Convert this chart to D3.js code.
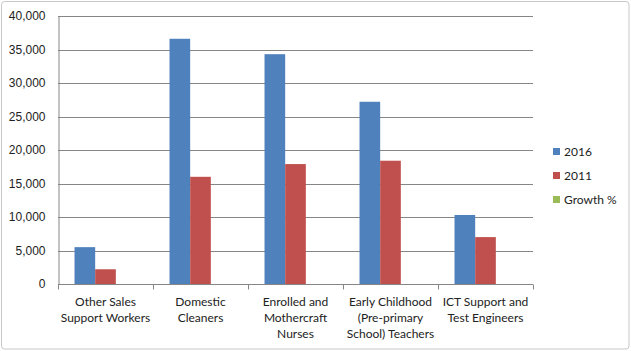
<!DOCTYPE html>
<html>
<head>
<meta charset="utf-8">
<script src="https://cdn.jsdelivr.net/npm/d3@7"></script>
<style>
  html, body { margin: 0; padding: 0; background: #fff; }
  svg { display: block; font-family: Lato, "Open Sans", sans-serif; }
</style>
</head>
<body>
<svg width="631" height="351"></svg>
<script>
const categories = [
  ["Other Sales", "Support Workers"],
  ["Domestic", "Cleaners"],
  ["Enrolled and", "Mothercraft", "Nurses"],
  ["Early Childhood", "(Pre-primary", "School) Teachers"],
  ["ICT Support and", "Test Engineers"]
];
const seriesNames = ["2016", "2011", "Growth %"];
const values2016 = [5500, 36600, 34300, 27200, 10300];
const values2011 = [2200, 16000, 17900, 18400, 7000];
const valuesGrowth = [0, 0, 0, 0, 0];
const yTicks = [0, 5000, 10000, 15000, 20000, 25000, 30000, 35000, 40000];
const colors = ["#4f81bd", "#c0504d", "#9bbb59"];

const svg = d3.select("svg");
const W = 631, H = 351;
const m = {left: 58, right: 98, top: 16, bottom: 67};

// outer frame
svg.append("rect")
  .attr("x", 1.5).attr("y", 1.5)
  .attr("width", W - 3.5).attr("height", H - 3.5)
  .attr("rx", 3)
  .attr("fill", "#fff")
  .attr("stroke", "#c8c8c8");

const series = [values2016, values2011, valuesGrowth];
const idx = d3.range(categories.length);

const x = d3.scaleBand()
  .domain(idx)
  .range([m.left, W - m.right])
  .paddingInner(0)
  .paddingOuter(0);

const xs = d3.scaleBand()
  .domain(d3.range(series.length))
  .range([0, x.bandwidth()])
  .paddingInner(0)
  .paddingOuter(0.8);

const y = d3.scaleLinear()
  .domain([0, 40000])
  .range([H - m.bottom, m.top]);

const fmt = d3.format(",d");

// gridlines
svg.append("g")
  .selectAll("line")
  .data(yTicks.slice(1))
  .join("line")
    .attr("x1", m.left).attr("x2", W - m.right)
    .attr("y1", d => Math.round(y(d)) + 0.5)
    .attr("y2", d => Math.round(y(d)) + 0.5)
    .attr("stroke", "#868686");

// bars
svg.append("g")
  .selectAll("g")
  .data(series)
  .join("g")
    .attr("fill", (d, i) => colors[i])
  .selectAll("rect")
  .data((d, si) => d.map((v, ci) => ({v, ci, si})))
  .join("rect")
    .attr("x", d => x(d.ci) + xs(d.si))
    .attr("width", xs.bandwidth())
    .attr("y", d => y(d.v))
    .attr("height", d => y(0) - y(d.v));

// y axis
const yAxis = svg.append("g")
  .attr("transform", `translate(${m.left + 0.5},0)`)
  .call(d3.axisLeft(y).tickValues(yTicks).tickFormat(fmt).tickSize(0).tickPadding(13));
yAxis.select(".domain").attr("stroke", "#868686");
yAxis.selectAll("text").attr("font-size", 12).attr("fill", "#222");

// x axis
const xAxis = svg.append("g")
  .attr("transform", `translate(0,${Math.round(y(0)) + 0.5})`);
xAxis.append("line")
  .attr("x1", m.left).attr("x2", W - m.right)
  .attr("stroke", "#868686");
xAxis.selectAll("line.tick")
  .data(idx.concat([categories.length]))
  .join("line")
    .attr("class", "tick")
    .attr("x1", d => Math.round(d < categories.length ? x(d) : x(d - 1) + x.bandwidth()) + 0.5)
    .attr("x2", d => Math.round(d < categories.length ? x(d) : x(d - 1) + x.bandwidth()) + 0.5)
    .attr("y1", 0).attr("y2", 5)
    .attr("stroke", "#868686");

svg.append("g")
  .selectAll("text")
  .data(categories)
  .join("text")
    .attr("x", (d, i) => x(i) + x.bandwidth() / 2)
    .attr("y", 306)
    .attr("text-anchor", "middle")
    .attr("font-size", 12)
    .attr("fill", "#222")
  .selectAll("tspan")
  .data(d => d)
  .join("tspan")
    .attr("x", function() { return this.parentNode.getAttribute("x"); })
    .attr("dy", (d, i) => i === 0 ? 0 : 16)
    .text(d => d);

// legend
const legend = svg.append("g")
  .selectAll("g")
  .data(seriesNames)
  .join("g")
    .attr("transform", (d, i) => `translate(553,${152 + i * 24})`);
legend.append("rect")
  .attr("x", 0).attr("y", -4)
  .attr("width", 7).attr("height", 7)
  .attr("fill", (d, i) => colors[i]);
legend.append("text")
  .attr("x", 11).attr("y", 0)
  .attr("dy", "0.35em")
  .attr("font-size", 12)
  .attr("fill", "#222")
  .text(d => d);
</script>
</body>
</html>
